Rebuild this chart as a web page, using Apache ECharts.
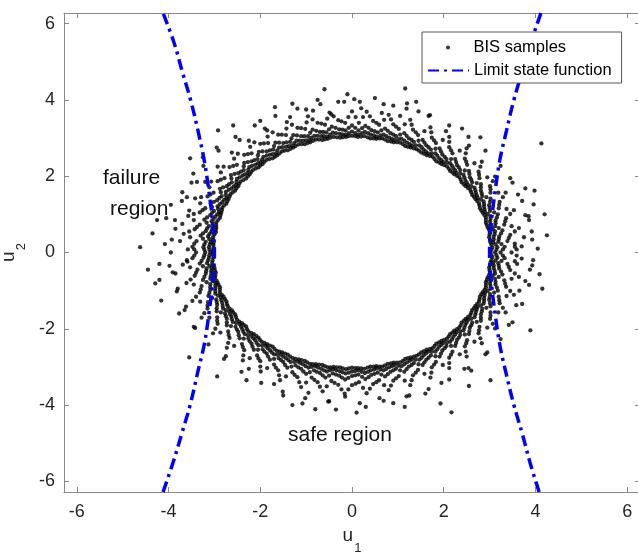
<!DOCTYPE html>
<html>
<head>
<meta charset="utf-8">
<title>BIS samples</title>
<script src="https://cdn.jsdelivr.net/npm/echarts@6/dist/echarts.min.js"></script>
<style>
  html, body { margin: 0; padding: 0; background: #fff; }
  #main { width: 638px; height: 553px; }
</style>
</head>
<body>
<div id="main"></div>
<script>
// samples, quadrant by quadrant
var samplesQ1 = [
  [3.02,0],[3.12,0],[3.24,0],[3.48,0],
  [3.06,.13],[3.17,.14],[3.33,.15],[3.70,.16],
  [3.02,.26],[3.08,.27],[3.19,.28],[3.39,.30],[3.93,.34],
  [2.99,.40],[3.09,.41],[3.21,.42],[3.45,.46],
  [3.01,.53],[3.12,.55],[3.28,.58],[3.64,.64],
  [2.96,.65],[3.02,.67],[3.12,.69],[3.32,.73],[3.86,.85],
  [2.92,.78],[3.01,.81],[3.13,.84],[3.36,.90],
  [2.92,.92],[3.02,.95],[3.18,1.00],[3.53,1.11],
  [2.85,1.04],[2.90,1.06],[3.01,1.09],[3.20,1.16],[3.71,1.35],
  [2.79,1.16],[2.88,1.20],[2.99,1.24],[3.22,1.33],
  [2.77,1.29],[2.87,1.34],[3.02,1.41],[3.35,1.57],
  [2.69,1.40],[2.74,1.43],[2.84,1.48],[3.02,1.57],[3.50,1.83],
  [2.62,1.51],[2.70,1.56],[2.81,1.62],[3.01,1.74],
  [2.58,1.64],[2.67,1.70],[2.81,1.79],[3.12,1.99],
  [2.48,1.74],[2.53,1.77],[2.62,1.84],[2.78,1.95],[3.24,2.27],
  [2.39,1.84],[2.47,1.90],[2.57,1.97],[2.76,2.12],
  [2.34,1.97],[2.43,2.04],[2.55,2.14],[2.83,2.38],
  [2.23,2.05],[2.28,2.09],[2.36,2.16],[2.51,2.30],[2.91,2.67],
  [2.14,2.14],[2.21,2.21],[2.29,2.29],[2.46,2.46],
  [2.07,2.26],[2.14,2.34],[2.25,2.45],[2.50,2.73],
  [1.95,2.32],[1.99,2.37],[2.06,2.45],[2.19,2.60],[2.54,3.03],
  [1.84,2.39],[1.90,2.47],[1.97,2.57],[2.12,2.76],
  [1.76,2.51],[1.82,2.60],[1.91,2.73],[2.12,3.03],
  [1.63,2.55],[1.66,2.60],[1.72,2.70],[1.83,2.87],[2.12,3.33],
  [1.51,2.62],[1.56,2.70],[1.62,2.81],[1.74,3.01],
  [1.41,2.71],[1.47,2.81],[1.54,2.95],[1.71,3.28],
  [1.28,2.75],[1.31,2.80],[1.35,2.90],[1.44,3.08],[1.67,3.58],
  [1.16,2.79],[1.20,2.88],[1.24,2.99],[1.33,3.22],
  [1.05,2.88],[1.08,2.98],[1.14,3.13],[1.27,3.48],
  [.91,2.89],[.93,2.95],[.96,3.05],[1.02,3.24],[1.19,3.77],
  [.78,2.92],[.81,3.01],[.84,3.13],[.90,3.36],
  [.66,2.99],[.69,3.09],[.72,3.25],[.80,3.61],
  [.53,2.98],[.54,3.04],[.56,3.15],[.59,3.35],[.69,3.89],
  [.40,2.99],[.41,3.09],[.42,3.21],[.46,3.45],
  [.27,3.05],[.28,3.16],[.29,3.32],[.32,3.69],
  [.13,3.03],[.14,3.09],[.14,3.20],[.15,3.40],[.17,3.95]
];
var samplesQ1b = [
  [3.04,.07],[3.15,.07],[3.29,.08],[3.59,.08],
  [3.04,.20],[3.13,.21],[3.26,.22],[3.55,.23],
  [3.01,.33],[3.09,.34],[3.20,.35],[3.42,.38],
  [3.00,.47],[3.11,.48],[3.25,.50],[3.55,.55],
  [2.99,.59],[3.07,.61],[3.20,.64],[3.48,.69],
  [2.94,.72],[3.02,.74],[3.13,.77],[3.34,.82],
  [2.92,.85],[3.02,.88],[3.16,.92],[3.45,1.01],
  [2.89,.98],[2.96,1.01],[3.10,1.05],[3.37,1.14],
  [2.82,1.10],[2.89,1.13],[3.00,1.17],[3.21,1.25],
  [2.78,1.23],[2.88,1.27],[3.01,1.33],[3.29,1.45],
  [2.73,1.35],[2.81,1.39],[2.93,1.45],[3.19,1.57],
  [2.66,1.46],[2.72,1.50],[2.83,1.55],[3.02,1.66],
  [2.60,1.58],[2.69,1.63],[2.81,1.71],[3.07,1.87],
  [2.53,1.69],[2.60,1.74],[2.72,1.82],[2.95,1.97],
  [2.44,1.79],[2.50,1.84],[2.60,1.91],[2.77,2.04],
  [2.37,1.91],[2.45,1.97],[2.56,2.06],[2.80,2.25],
  [2.29,2.01],[2.36,2.07],[2.46,2.15],[2.67,2.34],
  [2.19,2.10],[2.25,2.15],[2.33,2.23],[2.49,2.38],
  [2.11,2.20],[2.18,2.28],[2.27,2.37],[2.48,2.60],
  [2.01,2.29],[2.07,2.36],[2.16,2.45],[2.35,2.67],
  [1.90,2.36],[1.95,2.42],[2.02,2.51],[2.16,2.68],
  [1.80,2.45],[1.86,2.54],[1.94,2.65],[2.12,2.90],
  [1.70,2.53],[1.74,2.60],[1.82,2.72],[1.98,2.95],
  [1.57,2.59],[1.61,2.65],[1.67,2.76],[1.79,2.94],
  [1.46,2.67],[1.52,2.76],[1.58,2.88],[1.73,3.15],
  [1.35,2.73],[1.39,2.81],[1.45,2.93],[1.58,3.18],
  [1.22,2.77],[1.26,2.84],[1.30,2.95],[1.39,3.15],
  [1.11,2.84],[1.14,2.93],[1.19,3.06],[1.30,3.35],
  [.98,2.89],[1.01,2.97],[1.05,3.09],[1.15,3.36],
  [.85,2.91],[.87,2.98],[.90,3.09],[.96,3.30],
  [.72,2.96],[.75,3.05],[.78,3.19],[.85,3.49],
  [.60,2.99],[.62,3.07],[.64,3.20],[.70,3.48],
  [.47,2.99],[.48,3.07],[.49,3.18],[.53,3.40],
  [.34,3.02],[.35,3.13],[.36,3.27],[.39,3.57],
  [.20,3.04],[.21,3.13],[.22,3.26],[.24,3.55],
  [.07,3.05],[.07,3.13],[.07,3.27],[.08,3.55]
];
var samplesQ2 = [
  [0,3.06],[0,3.17],[0,3.33],[0,3.70],
  [-.13,3.03],[-.14,3.09],[-.14,3.20],[-.15,3.40],[-.17,3.95],
  [-.26,3.01],[-.27,3.11],[-.28,3.23],[-.30,3.47],
  [-.40,3.03],[-.42,3.14],[-.44,3.30],[-.49,3.67],
  [-.53,2.98],[-.54,3.04],[-.56,3.15],[-.59,3.35],[-.69,3.89],
  [-.65,2.95],[-.67,3.05],[-.70,3.16],[-.75,3.40],
  [-.79,2.96],[-.82,3.06],[-.86,3.22],[-.96,3.57],
  [-.91,2.89],[-.93,2.95],[-.96,3.05],[-1.02,3.24],[-1.19,3.77],
  [-1.03,2.84],[-1.07,2.93],[-1.11,3.05],[-1.19,3.27],
  [-1.17,2.83],[-1.21,2.93],[-1.28,3.08],[-1.42,3.42],
  [-1.28,2.75],[-1.31,2.80],[-1.35,2.90],[-1.44,3.08],[-1.67,3.58],
  [-1.40,2.68],[-1.44,2.77],[-1.50,2.87],[-1.61,3.09],
  [-1.53,2.65],[-1.59,2.75],[-1.67,2.88],[-1.85,3.20],
  [-1.63,2.55],[-1.66,2.60],[-1.72,2.70],[-1.83,2.87],[-2.12,3.33],
  [-1.73,2.47],[-1.79,2.56],[-1.86,2.65],[-2.00,2.85],
  [-1.86,2.43],[-1.93,2.51],[-2.03,2.64],[-2.25,2.93],
  [-1.95,2.32],[-1.99,2.37],[-2.06,2.45],[-2.19,2.60],[-2.54,3.03],
  [-2.04,2.23],[-2.11,2.30],[-2.19,2.39],[-2.35,2.56],
  [-2.16,2.16],[-2.24,2.24],[-2.35,2.35],[-2.62,2.62],
  [-2.23,2.05],[-2.28,2.09],[-2.36,2.16],[-2.51,2.30],[-2.91,2.67],
  [-2.31,1.94],[-2.39,2.01],[-2.48,2.08],[-2.67,2.24],
  [-2.43,1.86],[-2.51,1.93],[-2.64,2.03],[-2.93,2.25],
  [-2.48,1.74],[-2.53,1.77],[-2.62,1.84],[-2.78,1.95],[-3.24,2.27],
  [-2.55,1.62],[-2.63,1.68],[-2.73,1.74],[-2.93,1.87],
  [-2.65,1.53],[-2.75,1.59],[-2.88,1.67],[-3.20,1.85],
  [-2.69,1.40],[-2.74,1.43],[-2.84,1.48],[-3.02,1.57],[-3.50,1.83],
  [-2.74,1.28],[-2.83,1.32],[-2.94,1.37],[-3.15,1.47],
  [-2.83,1.17],[-2.93,1.21],[-3.08,1.28],[-3.42,1.42],
  [-2.85,1.04],[-2.90,1.06],[-3.01,1.09],[-3.20,1.16],[-3.71,1.35],
  [-2.88,.91],[-2.98,.94],[-3.09,.98],[-3.32,1.05],
  [-2.96,.79],[-3.06,.82],[-3.22,.86],[-3.57,.96],
  [-2.96,.65],[-3.02,.67],[-3.12,.69],[-3.32,.73],[-3.86,.85],
  [-2.97,.53],[-3.07,.54],[-3.19,.56],[-3.43,.61],
  [-3.03,.40],[-3.14,.42],[-3.30,.44],[-3.67,.49],
  [-3.02,.26],[-3.08,.27],[-3.19,.28],[-3.39,.30],[-3.93,.34],
  [-3.02,.13],[-3.12,.14],[-3.24,.14],[-3.48,.15]
];
var samplesQ2b = [
  [-.07,3.05],[-.07,3.13],[-.07,3.27],[-.08,3.55],
  [-.20,3.02],[-.21,3.10],[-.21,3.22],[-.23,3.44],
  [-.33,3.02],[-.35,3.13],[-.36,3.27],[-.40,3.57],
  [-.47,3.01],[-.48,3.09],[-.50,3.23],[-.54,3.51],
  [-.59,2.97],[-.61,3.05],[-.63,3.16],[-.67,3.38],
  [-.72,2.96],[-.75,3.06],[-.78,3.19],[-.86,3.49],
  [-.85,2.93],[-.88,3.01],[-.91,3.14],[-.99,3.41],
  [-.97,2.87],[-1.00,2.94],[-1.04,3.05],[-1.11,3.26],
  [-1.10,2.84],[-1.14,2.93],[-1.20,3.07],[-1.31,3.35],
  [-1.23,2.79],[-1.26,2.87],[-1.32,2.99],[-1.43,3.25],
  [-1.34,2.72],[-1.38,2.79],[-1.43,2.89],[-1.53,3.09],
  [-1.47,2.67],[-1.52,2.76],[-1.59,2.88],[-1.73,3.15],
  [-1.58,2.60],[-1.63,2.68],[-1.70,2.79],[-1.84,3.04],
  [-1.68,2.51],[-1.73,2.58],[-1.79,2.68],[-1.92,2.86],
  [-1.80,2.45],[-1.86,2.54],[-1.95,2.65],[-2.13,2.89],
  [-1.91,2.38],[-1.96,2.44],[-2.05,2.55],[-2.22,2.77],
  [-2.00,2.28],[-2.05,2.34],[-2.13,2.42],[-2.27,2.58],
  [-2.10,2.20],[-2.18,2.27],[-2.27,2.37],[-2.49,2.59],
  [-2.20,2.11],[-2.26,2.17],[-2.36,2.26],[-2.57,2.46],
  [-2.27,2.00],[-2.34,2.05],[-2.42,2.12],[-2.59,2.27],
  [-2.37,1.90],[-2.45,1.97],[-2.56,2.06],[-2.80,2.25],
  [-2.46,1.80],[-2.52,1.85],[-2.63,1.94],[-2.86,2.10],
  [-2.52,1.68],[-2.58,1.73],[-2.68,1.79],[-2.86,1.91],
  [-2.60,1.58],[-2.69,1.64],[-2.81,1.71],[-3.07,1.86],
  [-2.67,1.47],[-2.75,1.51],[-2.86,1.58],[-3.11,1.71],
  [-2.72,1.34],[-2.79,1.38],[-2.89,1.43],[-3.09,1.52],
  [-2.79,1.23],[-2.88,1.27],[-3.01,1.33],[-3.29,1.45],
  [-2.84,1.11],[-2.92,1.14],[-3.05,1.19],[-3.31,1.29],
  [-2.87,.98],[-2.94,1.00],[-3.05,1.04],[-3.26,1.11],
  [-2.92,.85],[-3.02,.88],[-3.16,.92],[-3.45,1.01],
  [-2.96,.72],[-3.04,.75],[-3.17,.78],[-3.45,.85],
  [-2.97,.59],[-3.05,.61],[-3.16,.63],[-3.38,.67],
  [-3.00,.47],[-3.11,.48],[-3.25,.50],[-3.55,.55],
  [-3.03,.33],[-3.11,.35],[-3.25,.36],[-3.53,.40],
  [-3.02,.20],[-3.10,.21],[-3.22,.21],[-3.44,.23],
  [-3.03,.07],[-3.11,.07],[-3.22,.07],[-3.44,.08]
];
var samplesQ3 = [
  [-3.03,0],[-3.09,0],[-3.20,0],[-3.40,0],[-3.95,0],
  [-3.02,-.13],[-3.12,-.14],[-3.24,-.14],[-3.48,-.15],
  [-3.05,-.27],[-3.16,-.28],[-3.32,-.29],[-3.69,-.32],
  [-3.00,-.40],[-3.06,-.41],[-3.17,-.42],[-3.37,-.45],[-3.91,-.52],
  [-2.97,-.53],[-3.07,-.54],[-3.19,-.56],[-3.43,-.61],
  [-2.99,-.66],[-3.09,-.69],[-3.25,-.72],[-3.61,-.80],
  [-2.93,-.79],[-2.98,-.80],[-3.09,-.83],[-3.28,-.88],[-3.82,-1.02],
  [-2.88,-.91],[-2.98,-.94],[-3.09,-.98],[-3.32,-1.05],
  [-2.88,-1.05],[-2.98,-1.08],[-3.13,-1.14],[-3.48,-1.27],
  [-2.80,-1.16],[-2.86,-1.18],[-2.96,-1.23],[-3.14,-1.30],[-3.65,-1.51],
  [-2.74,-1.28],[-2.83,-1.32],[-2.94,-1.37],[-3.15,-1.47],
  [-2.71,-1.41],[-2.81,-1.47],[-2.95,-1.54],[-3.28,-1.71],
  [-2.62,-1.52],[-2.68,-1.55],[-2.77,-1.60],[-2.94,-1.70],[-3.42,-1.98],
  [-2.55,-1.62],[-2.63,-1.68],[-2.73,-1.74],[-2.93,-1.87],
  [-2.51,-1.76],[-2.60,-1.82],[-2.73,-1.91],[-3.03,-2.12],
  [-2.40,-1.85],[-2.45,-1.88],[-2.54,-1.95],[-2.70,-2.07],[-3.13,-2.41],
  [-2.31,-1.94],[-2.39,-2.01],[-2.48,-2.08],[-2.67,-2.24],
  [-2.26,-2.07],[-2.34,-2.14],[-2.45,-2.25],[-2.73,-2.50],
  [-2.14,-2.14],[-2.19,-2.19],[-2.26,-2.26],[-2.40,-2.40],[-2.79,-2.79],
  [-2.04,-2.23],[-2.11,-2.30],[-2.19,-2.39],[-2.35,-2.56],
  [-1.97,-2.34],[-2.04,-2.43],[-2.14,-2.55],[-2.38,-2.83],
  [-1.85,-2.40],[-1.88,-2.45],[-1.95,-2.54],[-2.07,-2.70],[-2.41,-3.13],
  [-1.73,-2.47],[-1.79,-2.56],[-1.86,-2.65],[-2.00,-2.85],
  [-1.64,-2.58],[-1.70,-2.67],[-1.79,-2.81],[-1.99,-3.12],
  [-1.52,-2.62],[-1.55,-2.68],[-1.60,-2.77],[-1.70,-2.94],[-1.98,-3.42],
  [-1.40,-2.68],[-1.44,-2.77],[-1.50,-2.87],[-1.61,-3.09],
  [-1.29,-2.77],[-1.34,-2.87],[-1.41,-3.02],[-1.57,-3.35],
  [-1.16,-2.80],[-1.18,-2.86],[-1.23,-2.96],[-1.30,-3.14],[-1.51,-3.65],
  [-1.03,-2.84],[-1.07,-2.93],[-1.11,-3.05],[-1.19,-3.27],
  [-.92,-2.92],[-.95,-3.02],[-1.00,-3.18],[-1.11,-3.53],
  [-.79,-2.93],[-.80,-2.98],[-.83,-3.09],[-.88,-3.28],[-1.02,-3.82],
  [-.65,-2.95],[-.67,-3.05],[-.70,-3.16],[-.75,-3.40],
  [-.53,-3.01],[-.55,-3.12],[-.58,-3.28],[-.64,-3.64],
  [-.40,-3.00],[-.41,-3.06],[-.42,-3.17],[-.45,-3.37],[-.52,-3.91],
  [-.26,-3.01],[-.27,-3.11],[-.28,-3.23],[-.30,-3.47],
  [-.13,-3.06],[-.14,-3.17],[-.15,-3.33],[-.16,-3.70]
];
var samplesQ3b = [
  [-3.03,-.07],[-3.11,-.07],[-3.22,-.07],[-3.44,-.08],
  [-3.04,-.20],[-3.14,-.21],[-3.28,-.22],[-3.59,-.24],
  [-3.03,-.34],[-3.11,-.35],[-3.25,-.36],[-3.53,-.39],
  [-2.99,-.47],[-3.07,-.48],[-3.18,-.49],[-3.40,-.53],
  [-2.98,-.60],[-3.08,-.62],[-3.22,-.64],[-3.52,-.71],
  [-2.96,-.73],[-3.04,-.75],[-3.17,-.78],[-3.45,-.84],
  [-2.91,-.85],[-2.98,-.87],[-3.09,-.91],[-3.30,-.97],
  [-2.88,-.98],[-2.98,-1.01],[-3.11,-1.06],[-3.40,-1.16],
  [-2.84,-1.11],[-2.92,-1.13],[-3.05,-1.19],[-3.31,-1.29],
  [-2.77,-1.22],[-2.85,-1.25],[-2.95,-1.30],[-3.15,-1.39],
  [-2.73,-1.35],[-2.82,-1.40],[-2.95,-1.46],[-3.22,-1.59],
  [-2.67,-1.47],[-2.75,-1.51],[-2.86,-1.57],[-3.11,-1.71],
  [-2.59,-1.57],[-2.66,-1.62],[-2.75,-1.67],[-2.94,-1.79],
  [-2.53,-1.69],[-2.62,-1.75],[-2.73,-1.83],[-2.98,-2.00],
  [-2.46,-1.81],[-2.53,-1.85],[-2.64,-1.93],[-2.87,-2.10],
  [-2.36,-1.90],[-2.42,-1.95],[-2.51,-2.02],[-2.69,-2.16],
  [-2.29,-2.01],[-2.37,-2.08],[-2.47,-2.17],[-2.70,-2.37],
  [-2.20,-2.11],[-2.27,-2.17],[-2.36,-2.26],[-2.57,-2.45],
  [-2.09,-2.19],[-2.15,-2.25],[-2.23,-2.33],[-2.38,-2.48],
  [-2.01,-2.29],[-2.08,-2.37],[-2.17,-2.47],[-2.37,-2.70],
  [-1.91,-2.37],[-1.96,-2.44],[-2.05,-2.55],[-2.23,-2.77],
  [-1.79,-2.44],[-1.84,-2.51],[-1.91,-2.60],[-2.04,-2.78],
  [-1.69,-2.53],[-1.75,-2.62],[-1.83,-2.73],[-2.00,-2.99],
  [-1.58,-2.60],[-1.63,-2.68],[-1.70,-2.79],[-1.85,-3.03],
  [-1.46,-2.65],[-1.50,-2.73],[-1.55,-2.82],[-1.66,-3.02],
  [-1.35,-2.73],[-1.39,-2.82],[-1.46,-2.95],[-1.59,-3.22],
  [-1.23,-2.79],[-1.26,-2.87],[-1.32,-2.99],[-1.44,-3.25],
  [-1.10,-2.82],[-1.13,-2.90],[-1.17,-3.01],[-1.25,-3.21],
  [-.98,-2.88],[-1.01,-2.98],[-1.06,-3.12],[-1.15,-3.40],
  [-.86,-2.93],[-.88,-3.00],[-.92,-3.14],[-1.00,-3.41],
  [-.72,-2.94],[-.74,-3.02],[-.77,-3.13],[-.82,-3.34],
  [-.59,-2.98],[-.61,-3.09],[-.64,-3.22],[-.70,-3.52],
  [-.47,-3.01],[-.48,-3.09],[-.50,-3.23],[-.55,-3.51],
  [-.33,-3.01],[-.34,-3.09],[-.35,-3.20],[-.38,-3.42],
  [-.20,-3.04],[-.21,-3.14],[-.22,-3.28],[-.23,-3.59],
  [-.07,-3.04],[-.07,-3.15],[-.08,-3.29],[-.08,-3.59]
];
var samplesQ4 = [
  [0,-3.02],[0,-3.12],[0,-3.24],[0,-3.48],
  [.13,-3.03],[.14,-3.09],[.14,-3.20],[.15,-3.40],[.17,-3.95],
  [.27,-3.05],[.28,-3.16],[.29,-3.32],[.32,-3.69],
  [.40,-2.99],[.41,-3.09],[.42,-3.21],[.46,-3.45],
  [.53,-2.98],[.54,-3.04],[.56,-3.15],[.59,-3.35],[.69,-3.89],
  [.66,-2.99],[.69,-3.09],[.72,-3.25],[.80,-3.61],
  [.78,-2.92],[.81,-3.01],[.84,-3.13],[.90,-3.36],
  [.91,-2.89],[.93,-2.95],[.96,-3.05],[1.02,-3.24],[1.19,-3.77],
  [1.05,-2.88],[1.08,-2.98],[1.14,-3.13],[1.27,-3.48],
  [1.16,-2.79],[1.20,-2.88],[1.24,-2.99],[1.33,-3.22],
  [1.28,-2.75],[1.31,-2.80],[1.35,-2.90],[1.44,-3.08],[1.67,-3.58],
  [1.41,-2.71],[1.47,-2.81],[1.54,-2.95],[1.71,-3.28],
  [1.51,-2.62],[1.56,-2.70],[1.62,-2.81],[1.74,-3.01],
  [1.63,-2.55],[1.66,-2.60],[1.72,-2.70],[1.83,-2.87],[2.12,-3.33],
  [1.76,-2.51],[1.82,-2.60],[1.91,-2.73],[2.12,-3.03],
  [1.84,-2.39],[1.90,-2.47],[1.97,-2.57],[2.12,-2.76],
  [1.95,-2.32],[1.99,-2.37],[2.06,-2.45],[2.19,-2.60],[2.54,-3.03],
  [2.07,-2.26],[2.14,-2.34],[2.25,-2.45],[2.50,-2.73],
  [2.14,-2.14],[2.21,-2.21],[2.29,-2.29],[2.46,-2.46],
  [2.23,-2.05],[2.28,-2.09],[2.36,-2.16],[2.51,-2.30],[2.91,-2.67],
  [2.34,-1.97],[2.43,-2.04],[2.55,-2.14],[2.83,-2.38],
  [2.39,-1.84],[2.47,-1.90],[2.57,-1.97],[2.76,-2.12],
  [2.48,-1.74],[2.53,-1.77],[2.62,-1.84],[2.78,-1.95],[3.24,-2.27],
  [2.58,-1.64],[2.67,-1.70],[2.81,-1.79],[3.12,-1.99],
  [2.62,-1.51],[2.70,-1.56],[2.81,-1.62],[3.01,-1.74],
  [2.69,-1.40],[2.74,-1.43],[2.84,-1.48],[3.02,-1.57],[3.50,-1.83],
  [2.77,-1.29],[2.87,-1.34],[3.02,-1.41],[3.35,-1.57],
  [2.79,-1.16],[2.88,-1.20],[2.99,-1.24],[3.22,-1.33],
  [2.85,-1.04],[2.90,-1.06],[3.01,-1.09],[3.20,-1.16],[3.71,-1.35],
  [2.92,-.92],[3.02,-.95],[3.18,-1.00],[3.53,-1.11],
  [2.92,-.78],[3.01,-.81],[3.13,-.84],[3.36,-.90],
  [2.96,-.65],[3.02,-.67],[3.12,-.69],[3.32,-.73],[3.86,-.85],
  [3.01,-.53],[3.12,-.55],[3.28,-.58],[3.64,-.64],
  [2.99,-.40],[3.09,-.41],[3.21,-.42],[3.45,-.46],
  [3.02,-.26],[3.08,-.27],[3.19,-.28],[3.39,-.30],[3.93,-.34],
  [3.06,-.13],[3.17,-.14],[3.33,-.15],[3.70,-.16]
];
var samplesQ4b = [
  [.07,-3.03],[.07,-3.11],[.07,-3.22],[.08,-3.44],
  [.20,-3.04],[.21,-3.13],[.22,-3.26],[.24,-3.55],
  [.34,-3.02],[.35,-3.13],[.36,-3.27],[.39,-3.57],
  [.47,-2.99],[.48,-3.07],[.49,-3.18],[.53,-3.40],
  [.60,-2.99],[.62,-3.07],[.64,-3.20],[.70,-3.48],
  [.72,-2.96],[.75,-3.05],[.78,-3.19],[.85,-3.49],
  [.85,-2.91],[.87,-2.98],[.90,-3.09],[.96,-3.30],
  [.98,-2.89],[1.01,-2.97],[1.05,-3.09],[1.15,-3.36],
  [1.11,-2.84],[1.14,-2.93],[1.19,-3.06],[1.30,-3.35],
  [1.22,-2.77],[1.26,-2.84],[1.30,-2.95],[1.39,-3.15],
  [1.35,-2.73],[1.39,-2.81],[1.45,-2.93],[1.58,-3.18],
  [1.46,-2.67],[1.52,-2.76],[1.58,-2.88],[1.73,-3.15],
  [1.57,-2.59],[1.61,-2.65],[1.67,-2.76],[1.79,-2.94],
  [1.70,-2.53],[1.74,-2.60],[1.82,-2.72],[1.98,-2.95],
  [1.80,-2.45],[1.86,-2.54],[1.94,-2.65],[2.12,-2.90],
  [1.90,-2.36],[1.95,-2.42],[2.02,-2.51],[2.16,-2.68],
  [2.01,-2.29],[2.07,-2.36],[2.16,-2.45],[2.35,-2.67],
  [2.11,-2.20],[2.18,-2.28],[2.27,-2.37],[2.48,-2.60],
  [2.19,-2.10],[2.25,-2.15],[2.33,-2.23],[2.49,-2.38],
  [2.29,-2.01],[2.36,-2.07],[2.46,-2.15],[2.67,-2.34],
  [2.37,-1.91],[2.45,-1.97],[2.56,-2.06],[2.80,-2.25],
  [2.44,-1.79],[2.50,-1.84],[2.60,-1.91],[2.77,-2.04],
  [2.53,-1.69],[2.60,-1.74],[2.72,-1.82],[2.95,-1.97],
  [2.60,-1.58],[2.69,-1.63],[2.81,-1.71],[3.07,-1.87],
  [2.66,-1.46],[2.72,-1.50],[2.83,-1.55],[3.02,-1.66],
  [2.73,-1.35],[2.81,-1.39],[2.93,-1.45],[3.19,-1.57],
  [2.78,-1.23],[2.88,-1.27],[3.01,-1.33],[3.29,-1.45],
  [2.82,-1.10],[2.89,-1.13],[3.00,-1.17],[3.21,-1.25],
  [2.89,-.98],[2.96,-1.01],[3.10,-1.05],[3.37,-1.14],
  [2.92,-.85],[3.02,-.88],[3.16,-.92],[3.45,-1.01],
  [2.94,-.72],[3.02,-.74],[3.13,-.77],[3.34,-.82],
  [2.99,-.59],[3.07,-.61],[3.20,-.64],[3.48,-.69],
  [3.00,-.47],[3.11,-.48],[3.25,-.50],[3.55,-.55],
  [3.01,-.33],[3.09,-.34],[3.20,-.35],[3.42,-.38],
  [3.04,-.20],[3.13,-.21],[3.26,-.22],[3.55,-.23],
  [3.04,-.07],[3.15,-.07],[3.29,-.08],[3.59,-.08]
];
// stray samples further out
var samplesOuter = [
  [-4.62,.14],[-4.29,-.81],[-4.16,-1.26],[-4.35,.50],[-4.20,-.30],[-4.05,.90],[-4.45,-.45],
  [-3.55,-2.75],[-2.94,-3.25],[-1.08,-3.96],[-.80,-4.11],[-3.77,-1.60],
  [-3.53,2.47],[-2.92,3.20],[-2.59,3.33],[-1.68,3.81],[-.60,4.28],[-.10,4.15],
  [-3.70,1.58],[-3.46,2.07],[-3.75,.30],[-3.60,-.20],[-3.85,-.55],[-3.70,.75],[-3.55,1.10],
  [1.16,4.30],[1.20,3.91],[2.80,3.02],[3.78,1.68],[3.96,1.26],[4.13,2.86],
  [4.09,-.57],[3.89,-2.04],[3.02,-3.35],[2.17,-4.19],[1.93,-3.96],[3.78,-.75],
  [3.75,.40],[3.60,-.30],[3.85,.95],[3.65,-1.00],[3.95,-.20],[4.20,1.00],
  [.50,4.05],[-.30,3.95],[.90,3.85],[-1.00,3.75],[1.70,3.60],[-2.00,3.45],[2.40,3.25],
  [.30,-4.05],[-.50,-3.90],[.90,-3.95],[-1.50,-3.75],[1.60,-3.70],[-2.30,-3.35],[2.60,-3.10],
  [-1.35,3.55],[-.85,3.72],[-.45,3.62],[.20,3.78],[.65,3.66],[1.05,3.58],[1.45,3.70],
  [-1.90,3.25],[2.05,3.18],[-2.45,2.95],[2.55,2.80],[.05,4.02],[-.75,4.00],[1.40,3.95],[-1.30,3.90],
  [3.45,1.95],[3.62,1.52],[3.78,.98],[3.92,.55],[3.55,.15],[4.05,.10],[3.88,-.45],
  [3.58,-1.38],[3.42,-1.90],[4.15,-.95],[3.98,1.62],[4.25,.45],
  [2.95,-2.62],[2.45,-3.05],[1.95,-3.42],[1.25,-3.75],[.60,-3.82],[-.15,-3.78],[-.95,-3.68],
  [-1.70,-3.45],[-2.25,-3.05],[-2.75,-2.72],[.10,-4.20],[-.35,-4.12],[1.15,-4.05],[-1.30,-4.00],[2.55,-3.50],
  [-3.45,-1.95],[-3.62,-1.42],[-3.80,-.95],[-3.98,-.35],[-3.58,.08],[-4.08,.22],[-3.85,.62],
  [-3.60,1.45],[-3.38,1.85],[-4.20,-.72],[-3.95,1.25],[-4.25,.85],[-3.25,2.50],[-2.95,2.75]
];
// limit state function, left and right branches: [u1, u2]
var limitLeft = [
  [-4.12,-6.28],[-3.90,-5.5],[-3.71,-4.74],[-3.53,-4.0],[-3.37,-3.17],[-3.22,-2.4],
  [-3.12,-1.6],[-3.04,-0.8],[-3.0,0],[-3.04,0.8],[-3.12,1.6],[-3.22,2.4],
  [-3.36,3.2],[-3.52,4.0],[-3.70,4.74],[-3.88,5.5],[-4.12,6.28]
];
var limitRight = [
  [4.08,-6.28],[3.88,-5.5],[3.71,-4.74],[3.53,-4.0],[3.36,-3.17],[3.22,-2.4],
  [3.12,-1.6],[3.04,-0.8],[3.0,0],[3.04,0.8],[3.12,1.6],[3.22,2.4],
  [3.37,3.2],[3.53,4.0],[3.71,4.74],[3.90,5.5],[4.12,6.28]
];
var axisMin = -6.28, axisMax = 6.28;

var samples = samplesQ1.concat(samplesQ1b, samplesQ2, samplesQ2b, samplesQ3, samplesQ3b,
                               samplesQ4, samplesQ4b, samplesOuter);

var FONT = "Arial, 'Liberation Sans', Helvetica, sans-serif";
var axisGrey = '#8a8a8a';
var labelColor = '#262626';

function valueAxis(pos, withLabels, name, gap, labelMargin) {
  var ax = {
    type: 'value',
    position: pos,
    min: axisMin,
    max: axisMax,
    splitNumber: 6,
    minInterval: 2,
    maxInterval: 2,
    axisLine: { show: true, onZero: false, lineStyle: { color: axisGrey, width: 1 } },
    axisTick: { show: true, inside: true, length: 5, lineStyle: { color: axisGrey } },
    splitLine: { show: false },
    axisLabel: {
      show: withLabels,
      color: labelColor,
      fontSize: 18,
      fontFamily: FONT,
      margin: labelMargin || 9,
      showMinLabel: false,
      showMaxLabel: false
    }
  };
  if (name) {
    ax.name = name;
    ax.nameLocation = 'middle';
    ax.nameGap = gap;
    ax.nameTextStyle = {
      color: labelColor,
      fontFamily: FONT,
      rich: {
        a: { fontSize: 19, lineHeight: 22, verticalAlign: 'top', fontFamily: FONT, color: labelColor },
        b: { fontSize: 13, lineHeight: 15, verticalAlign: 'top', padding: [16, 0, 0, 1], fontFamily: FONT, color: labelColor }
      }
    };
  }
  return ax;
}

var myChart = echarts.init(document.getElementById('main'));

var option = {
  animation: false,
  backgroundColor: '#fff',
  grid: { left: 64, top: 13, width: 576, height: 479, containLabel: false, outerBoundsMode: 'none' },
  xAxis: [
    valueAxis('bottom', true, '{a|u}{b|1}', 22, 11),
    valueAxis('top', false)
  ],
  yAxis: [
    valueAxis('left', true, '{a|u}{b|2}', 24, 9),
    valueAxis('right', false)
  ],
  legend: [
    {
      data: [{ name: 'Limit state function', itemStyle: { opacity: 0 } }],
      left: 422,
      top: 32,
      orient: 'vertical',
      itemWidth: 41,
      itemHeight: 14,
      padding: [30, 10, 4, 5],
      borderColor: '#595959',
      borderWidth: 1,
      backgroundColor: '#fff',
      selectedMode: false,
      textStyle: { fontSize: 16.5, color: '#000', fontFamily: FONT }
    },
    {
      data: ['BIS samples'],
      left: 446,
      top: 39,
      itemWidth: 41,
      itemHeight: 4,
      padding: 0,
      selectedMode: false,
      textStyle: { fontSize: 16.5, color: '#000', fontFamily: FONT }
    }
  ],
  graphic: [
    { type: 'text', left: 103, top: 168, style: { text: 'failure', fontSize: 21, fontFamily: FONT, fill: '#111' } },
    { type: 'text', left: 110, top: 199, style: { text: 'region', fontSize: 21, fontFamily: FONT, fill: '#111' } },
    { type: 'text', left: 288, top: 425, style: { text: 'safe region', fontSize: 21, fontFamily: FONT, fill: '#111' } }
  ],
  series: [
    {
      name: 'BIS samples',
      type: 'scatter',
      data: samples,
      symbol: 'circle',
      symbolSize: 4.3,
      itemStyle: { color: '#000' },
      silent: true,
      z: 2
    },
    {
      name: 'Limit state function',
      type: 'line',
      data: limitLeft,
      symbol: 'none',
      smooth: 0.4,
      lineStyle: { color: '#0000ff', width: 3.5, type: [11, 5, 3, 5] },
      itemStyle: { color: '#0000ff' },
      silent: true,
      z: 3
    },
    {
      name: 'Limit state function',
      type: 'line',
      data: limitRight,
      symbol: 'none',
      smooth: 0.4,
      lineStyle: { color: '#0000ff', width: 3.5, type: [11, 5, 3, 5] },
      itemStyle: { color: '#0000ff' },
      silent: true,
      z: 3
    }
  ]
};

myChart.setOption(option);
</script>
</body>
</html>
